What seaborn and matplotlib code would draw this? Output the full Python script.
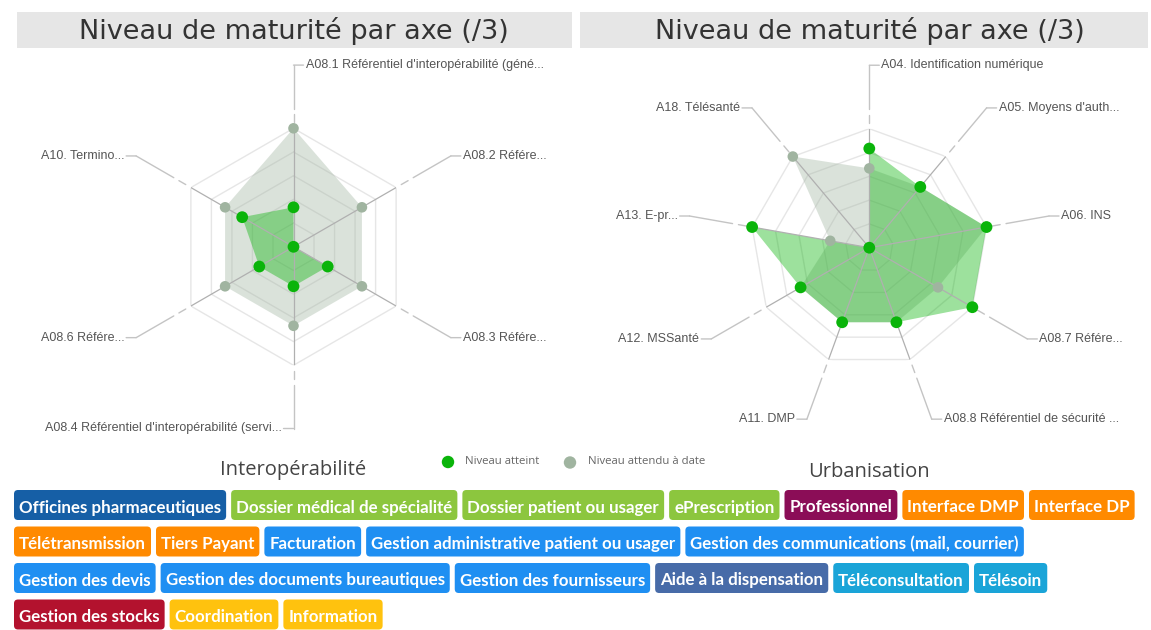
import numpy as np
import pandas as pd
import matplotlib
matplotlib.use("Agg")
import matplotlib.pyplot as plt
import seaborn as sns
from matplotlib.patches import Rectangle, FancyBboxPatch

# ---------------- data ----------------
interop_axes = [
    "A08.1 Référentiel d'interopérabilité (géné...",
    "A08.2 Référe...",
    "A08.3 Référe...",
    "A08.4 Référentiel d'interopérabilité (servi...",
    "A08.6 Référe...",
    "A10. Termino...",
]
interop_atteint = [1, 0, 1, 1, 1, 1.5]
interop_attendu = [3, 2, 2, 2, 2, 2]

urba_axes = [
    "A04. Identification numérique",
    "A05. Moyens d'auth...",
    "A06. INS",
    "A08.7 Référe...",
    "A08.8 Référentiel de sécurité ...",
    "A11. DMP",
    "A12. MSSanté",
    "A13. E-pr...",
    "A18. Télésanté",
]
urba_atteint = [2.5, 2, 3, 3, 2, 2, 2, 3, 0]
urba_attendu = [2, 2, 3, 2, 2, 2, 2, 1, 3]

chart_title = "Niveau de maturité par axe (/3)"
section_names = ["Interopérabilité", "Urbanisation"]
legend_labels = ["Niveau atteint", "Niveau attendu à date"]

tag_rows = [
    ["Officines pharmaceutiques", "Dossier médical de spécialité", "Dossier patient ou usager",
     "ePrescription", "Professionnel", "Interface DMP", "Interface DP"],
    ["Télétransmission", "Tiers Payant", "Facturation",
     "Gestion administrative patient ou usager", "Gestion des communications (mail, courrier)"],
    ["Gestion des devis", "Gestion des documents bureautiques", "Gestion des fournisseurs",
     "Aide à la dispensation", "Téléconsultation", "Télésoin"],
    ["Gestion des stocks", "Coordination", "Information"],
]
tag_colors = {
    "Officines pharmaceutiques": "#165fa6",
    "Dossier médical de spécialité": "#8cc63e",
    "Dossier patient ou usager": "#8cc63e",
    "ePrescription": "#8cc63e",
    "Professionnel": "#8b0d57",
    "Interface DMP": "#ff8a00",
    "Interface DP": "#ff8a00",
    "Télétransmission": "#ff8a00",
    "Tiers Payant": "#ff8a00",
    "Facturation": "#1f8ff2",
    "Gestion administrative patient ou usager": "#1f8ff2",
    "Gestion des communications (mail, courrier)": "#1f8ff2",
    "Gestion des devis": "#1f8ff2",
    "Gestion des documents bureautiques": "#1f8ff2",
    "Gestion des fournisseurs": "#1f8ff2",
    "Aide à la dispensation": "#476ba8",
    "Téléconsultation": "#1aa4d8",
    "Télésoin": "#1aa4d8",
    "Gestion des stocks": "#b3122e",
    "Coordination": "#ffc20e",
    "Information": "#ffc20e",
}

# ---------------- style ----------------
W, H = 1151, 630
sns.set_theme(style="white")
plt.rcParams['font.family'] = ['Liberation Sans', 'DejaVu Sans']

GREEN = '#0ab40a'
GREY = '#a0b4a0'
RMAX = 3.0

fig = plt.figure(figsize=(W / 100, H / 100), dpi=100)
fig.patch.set_facecolor('white')

ov = fig.add_axes([0, 0, 1, 1], zorder=0)
ov.set_xlim(0, W)
ov.set_ylim(H, 0)
ov.axis('off')


def radar(cx, cy, rpx, labels, atteint, attendu):
    rect = [(cx - rpx) / W, (H - cy - rpx) / H, 2 * rpx / W, 2 * rpx / H]
    ax = fig.add_axes(rect, projection='polar', zorder=2)
    ax.set_theta_zero_location('N')
    ax.set_theta_direction(-1)
    n = len(labels)
    theta = np.arange(n) * 2 * np.pi / n
    tc = np.r_[theta, theta[:1]]
    for lev in np.linspace(RMAX / 5, RMAX, 5):
        ax.plot(tc, [lev] * (n + 1), color='#e6e6e6', lw=1, zorder=1)
    att = np.asarray(attendu, float)
    ach = np.asarray(atteint, float)
    ax.fill(tc, np.r_[att, att[:1]], color=GREY, alpha=0.38, lw=0, zorder=2)
    ax.fill(tc, np.r_[ach, ach[:1]], color=GREEN, alpha=0.4, lw=0, zorder=3)
    for t, lab in zip(theta, labels):
        ax.plot([t, t], [0, RMAX], color='#b0b0b0', lw=0.9, zorder=4)
        ax.plot([t, t], [3.15, 3.35], color='#c4c4c4', lw=1, zorder=4, clip_on=False)
        ax.plot([t, t], [3.5, 4.6], color='#c4c4c4', lw=1, zorder=4, clip_on=False)
        s = np.sin(t)
        side = 1 if (s > 1e-6 or abs(t) < 1e-6) else -1
        ax.annotate('', xy=(t, 4.6), xytext=(side * 10, 0), textcoords='offset pixels',
                    arrowprops=dict(arrowstyle='-', color='#c4c4c4', lw=1, shrinkA=0, shrinkB=0),
                    annotation_clip=False)
        ax.annotate(lab, xy=(t, 4.6), xytext=(side * 12, 0), textcoords='offset pixels',
                    ha='left' if side > 0 else 'right', va='center', fontsize=9,
                    color='#555555', annotation_clip=False)
    df_att = pd.DataFrame({'theta': theta, 'r': att})
    df_ach = pd.DataFrame({'theta': theta, 'r': ach})
    sns.scatterplot(data=df_att, x='theta', y='r', ax=ax, color=GREY, s=58,
                    edgecolor='none', legend=False, zorder=5, clip_on=False)
    sns.scatterplot(data=df_ach, x='theta', y='r', ax=ax, color=GREEN, s=72,
                    edgecolor='none', legend=False, zorder=6, clip_on=False)
    ax.set_ylim(0, RMAX)
    ax.set_xlabel('')
    ax.set_ylabel('')
    ax.axis('off')
    return ax


radar(293.5, 246.8, 118.5, interop_axes, interop_atteint, interop_attendu)
radar(869.3, 247.7, 119.0, urba_axes, urba_atteint, urba_attendu)

# title bands
for x0, w, cx in [(17, 555, 294), (580, 568, 870)]:
    ov.add_patch(Rectangle((x0, 12), w, 36, fc='#e6e6e6', ec='none', zorder=1))
    ov.text(cx, 31, chart_title, ha='center', va='center', fontsize=19.5,
            family='DejaVu Sans', color='#333333', zorder=2)

# legend
ov.scatter([448], [462], s=80, color=GREEN, edgecolor='none', zorder=3)
ov.text(465, 461, legend_labels[0], ha='left', va='center', fontsize=8.2,
        family='Open Sans', color='#666666')
ov.scatter([570], [462.5], s=80, color=GREY, edgecolor='none', zorder=3)
ov.text(588, 461, legend_labels[1], ha='left', va='center', fontsize=8.2,
        family='Open Sans', color='#666666')

# section headers
ov.text(293, 470, section_names[0], ha='center', va='center', fontsize=14.5,
        family='Open Sans', color='#444444')
ov.text(869, 472, section_names[1], ha='center', va='center', fontsize=14.5,
        family='Open Sans', color='#444444')

# tags
renderer = fig.canvas.get_renderer()
row_tops = [490, 526.5, 563, 599.5]
TAG_H = 30
for row, ytop in zip(tag_rows, row_tops):
    x = 14
    for lab in row:
        t = ov.text(0, 0, lab, fontsize=12.2, family='Lato', weight='bold', color='white',
                    ha='center', va='center_baseline', zorder=3)
        tw = t.get_window_extent(renderer).width
        bw = tw + 10
        ov.add_patch(FancyBboxPatch((x, ytop), bw, TAG_H,
                                    boxstyle='round,pad=0,rounding_size=4',
                                    fc=tag_colors[lab], ec='none', zorder=2))
        t.set_position((x + bw / 2, ytop + TAG_H / 2 + 1))
        x += bw + 5

fig.savefig('out.png', dpi=100, facecolor='white')
